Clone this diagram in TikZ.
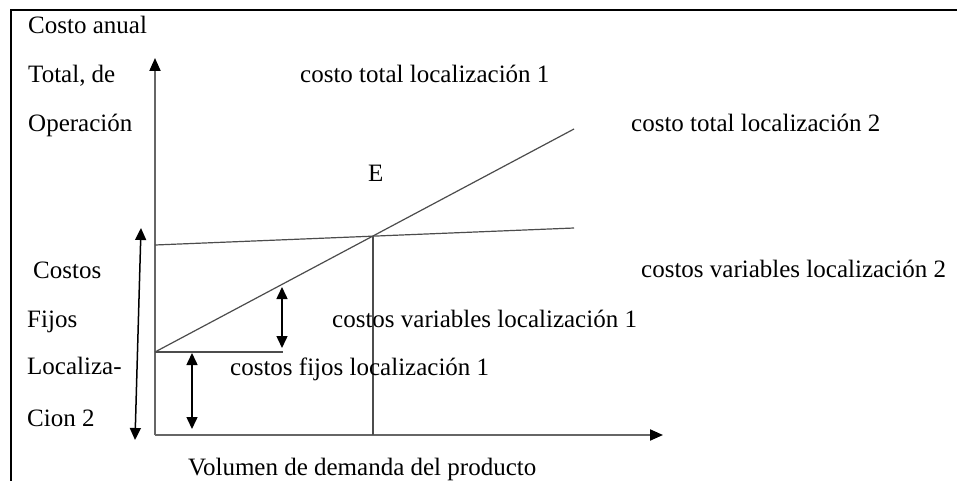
\documentclass[tikz,border=0pt]{standalone}
\usepackage{fontspec}
\setmainfont{Liberation Serif}
\usetikzlibrary{arrows.meta}
\begin{document}
\begin{tikzpicture}[x=1pt,y=-1pt,
  lbl/.style={anchor=base west, inner sep=0pt, font=\fontsize{25}{30}\selectfont},
  frame/.style={line width=2pt, draw=black},
  axisline/.style={line width=2pt, draw=black!60, -{Triangle[length=13pt,width=11pt,color=black]}},
  costline/.style={line width=1.2pt, draw=black!70},
  dbl/.style={line width=1.5pt, draw=black, {Triangle[length=12pt,width=11pt]}-{Triangle[length=12pt,width=11pt]}}
]
\useasboundingbox (0,0) rectangle (957,481);
\fill[white] (0,0) rectangle (957,481);
% frame
\coordinate (f1) at (11,481);
\coordinate (f2) at (11,10);
\coordinate (f3) at (957,10);
\draw[frame] (f1) -- (f2) -- (f3);
% axes
\coordinate (O) at (155,435);
\coordinate (Ytip) at (155,58);
\coordinate (Xtip) at (663,435);
\draw[axisline] (O) -- (Ytip);
\draw[axisline] (O) -- (Xtip);
% cost lines
\coordinate (A1) at (155,352);
\coordinate (B1) at (574,129);
\coordinate (A2) at (155,245);
\coordinate (B2) at (574,228);
\coordinate (E) at (373,236);
\coordinate (Ebase) at (373,435);
\coordinate (H) at (283,352);
\draw[costline] (A1) -- (B1);
\draw[costline] (A2) -- (B2);
\draw[costline] (E) -- (Ebase);
\draw[costline] (A1) -- (H);
% double arrows
\coordinate (bigT) at (141,228);
\coordinate (bigB) at (135,440);
\draw[dbl] (bigT) -- (bigB);
\coordinate (varT) at (282,287);
\coordinate (varB) at (282,348);
\draw[dbl] (varT) -- (varB);
\coordinate (fixT) at (192,353);
\coordinate (fixB) at (192,429);
\draw[dbl] (fixT) -- (fixB);
% labels
\node[lbl] (t1) at (28,34) {Costo anual};
\node[lbl] (t2) at (28,83) {Total, de};
\node[lbl] (t3) at (28,132) {Operación};
\node[lbl] (ct1) at (300,83) {costo total localización 1};
\node[lbl] (ct2) at (631,132) {costo total localización 2};
\node[lbl] (eL) at (368,182) {E};
\node[lbl] (t4) at (33,278) {Costos};
\node[lbl] (cv2) at (641,277) {costos variables localización 2};
\node[lbl] (t5) at (27,327) {Fijos};
\node[lbl] (cv1) at (332,327) {costos variables localización 1};
\node[lbl] (t6) at (27,374) {Localiza-};
\node[lbl] (cf1) at (230,375) {costos fijos localización 1};
\node[lbl] (t7) at (27,426) {Cion 2};
\node[lbl] (xl) at (188,475) {Volumen de demanda del producto};
\end{tikzpicture}
\end{document}
